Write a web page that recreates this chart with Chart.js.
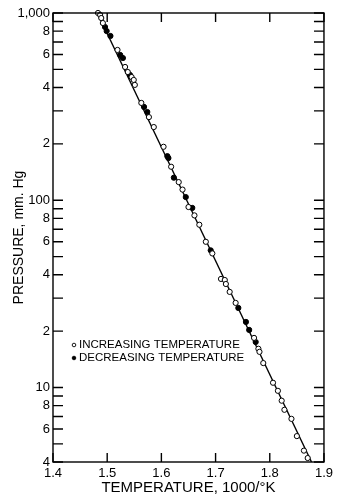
<!DOCTYPE html>
<html>
<head>
<meta charset="utf-8">
<script src="https://cdn.jsdelivr.net/npm/chart.js@4"></script>
<style>
  html, body { margin: 0; padding: 0; background: #fff; }
  #wrap { width: 337px; height: 496px; }
</style>
</head>
<body>
<div id="wrap"><canvas id="vapor-chart"></canvas></div>
<script>
// readings taken off the plot (1000/T, mm Hg)
const increasingX = [1.483, 1.487, 1.489, 1.492, 1.519, 1.533, 1.538, 1.545, 1.549, 1.551, 1.563, 1.577, 1.586, 1.604, 1.618, 1.632, 1.639, 1.650, 1.661, 1.670, 1.682, 1.694, 1.710, 1.717, 1.719, 1.726, 1.737, 1.771, 1.779, 1.781, 1.788, 1.806, 1.815, 1.822, 1.827, 1.840, 1.850, 1.863, 1.870];
const increasingY = [1000, 976, 940, 884, 635, 515, 484, 455, 439, 413, 331, 278, 246, 193, 151, 125, 114, 92, 83, 74, 60, 52, 38, 37.5, 35.7, 32.4, 28.3, 18.4, 16.1, 15.5, 13.5, 10.6, 9.6, 8.5, 7.6, 6.8, 5.5, 4.6, 4.2];
const decreasingX = [1.496, 1.499, 1.506, 1.524, 1.529, 1.542, 1.568, 1.574, 1.611, 1.613, 1.623, 1.645, 1.657, 1.691, 1.742, 1.756, 1.762, 1.774];
const decreasingY = [842, 801, 754, 597, 575, 467, 315, 296, 172, 168, 132, 104, 91, 54, 26.6, 22.4, 20.3, 17.5];
const fitX = [1.482, 1.877];
const fitY = [1000, 4.0];

const yTickValues = [4, 5, 6, 7, 8, 9, 10, 20, 30, 40, 50, 60, 70, 80, 90, 100, 200, 300, 400, 500, 600, 700, 800, 900, 1000];
const yTickLabels = ['4', '', '6', '', '8', '', '10', '2', '', '4', '', '6', '', '8', '', '100', '2', '', '4', '', '6', '', '8', '', '1,000'];

const FONT = "'Liberation Sans', Arial, sans-serif";
const toPoints = (xs, ys) => xs.map((v, i) => ({ x: v, y: ys[i] }));

// inward tick marks, frame and the little key inside the plot
const paperAxes = {
    id: 'paperAxes',
    afterDraw(chart) {
        const { ctx, chartArea: a, scales: { x, y } } = chart;
        ctx.save();
        ctx.strokeStyle = '#000';
        ctx.lineWidth = 1.4;
        ctx.strokeRect(a.left, a.top, a.right - a.left, a.bottom - a.top);
        ctx.beginPath();
        y.ticks.forEach(t => {
            const py = y.getPixelForValue(t.value);
            ctx.moveTo(a.left, py); ctx.lineTo(a.left + 10, py);
            ctx.moveTo(a.right, py); ctx.lineTo(a.right - 10, py);
        });
        x.ticks.forEach(t => {
            const px = x.getPixelForValue(t.value);
            ctx.moveTo(px, a.bottom); ctx.lineTo(px, a.bottom - 9);
            ctx.moveTo(px, a.top); ctx.lineTo(px, a.top + 9);
        });
        ctx.stroke();

        // key
        ctx.font = '11.5px ' + FONT;
        ctx.textBaseline = 'middle';
        chart.data.datasets.slice(0, 2).forEach((ds, i) => {
            const ky = 345 + i * 13;
            ctx.beginPath();
            ctx.arc(74, ky, 1.8, 0, Math.PI * 2);
            ctx.fillStyle = ds.backgroundColor;
            ctx.fill();
            ctx.lineWidth = 0.9;
            ctx.stroke();
            ctx.fillStyle = '#000';
            ctx.fillText(ds.label, 79, ky);
        });
        ctx.restore();
    }
};

Chart.defaults.color = '#000';
Chart.defaults.font.family = FONT;

const ctx = document.getElementById('vapor-chart').getContext('2d');
new Chart(ctx, {
    type: 'scatter',
    data: {
        datasets: [
            {
                label: 'INCREASING TEMPERATURE',
                data: toPoints(increasingX, increasingY),
                pointRadius: 2.6,
                borderWidth: 1,
                borderColor: '#000',
                backgroundColor: '#fff',
                clip: false
            },
            {
                label: 'DECREASING TEMPERATURE',
                data: toPoints(decreasingX, decreasingY),
                pointRadius: 2.6,
                borderWidth: 1,
                borderColor: '#000',
                backgroundColor: '#000',
                clip: false
            },
            {
                label: 'fit',
                data: toPoints(fitX, fitY),
                showLine: true,
                pointRadius: 0,
                borderWidth: 1.4,
                borderColor: '#000',
                clip: false
            }
        ]
    },
    options: {
        responsive: true,
        maintainAspectRatio: false,
        animation: false,
        layout: { padding: { top: 13, right: 2, left: 0, bottom: 0 } },
        plugins: {
            legend: { display: false },
            tooltip: { enabled: false }
        },
        scales: {
            x: {
                type: 'linear',
                min: 1.4,
                max: 1.9,
                grid: { display: false, drawTicks: false },
                border: { display: false },
                ticks: {
                    stepSize: 0.1,
                    padding: 4,
                    font: { size: 13 },
                    callback: v => v.toFixed(1)
                },
                title: {
                    display: true,
                    text: 'TEMPERATURE, 1000/°K',
                    font: { size: 15 },
                    padding: { top: 0, bottom: -1 }
                },
                afterFit: scale => { scale.height = 34; }
            },
            y: {
                type: 'logarithmic',
                min: 4,
                max: 1000,
                grid: { display: false, drawTicks: false },
                border: { display: false },
                afterBuildTicks: scale => {
                    scale.ticks = yTickValues.map(v => ({ value: v }));
                },
                ticks: {
                    autoSkip: false,
                    padding: 3,
                    font: { size: 13 },
                    callback: (value, index) => yTickLabels[index]
                },
                title: {
                    display: true,
                    text: 'PRESSURE, mm. Hg',
                    font: { size: 14 },
                    padding: { top: 11, bottom: 0 }
                },
                afterFit: scale => { scale.width = 53; }
            }
        }
    },
    plugins: [paperAxes]
});
</script>
</body>
</html>
